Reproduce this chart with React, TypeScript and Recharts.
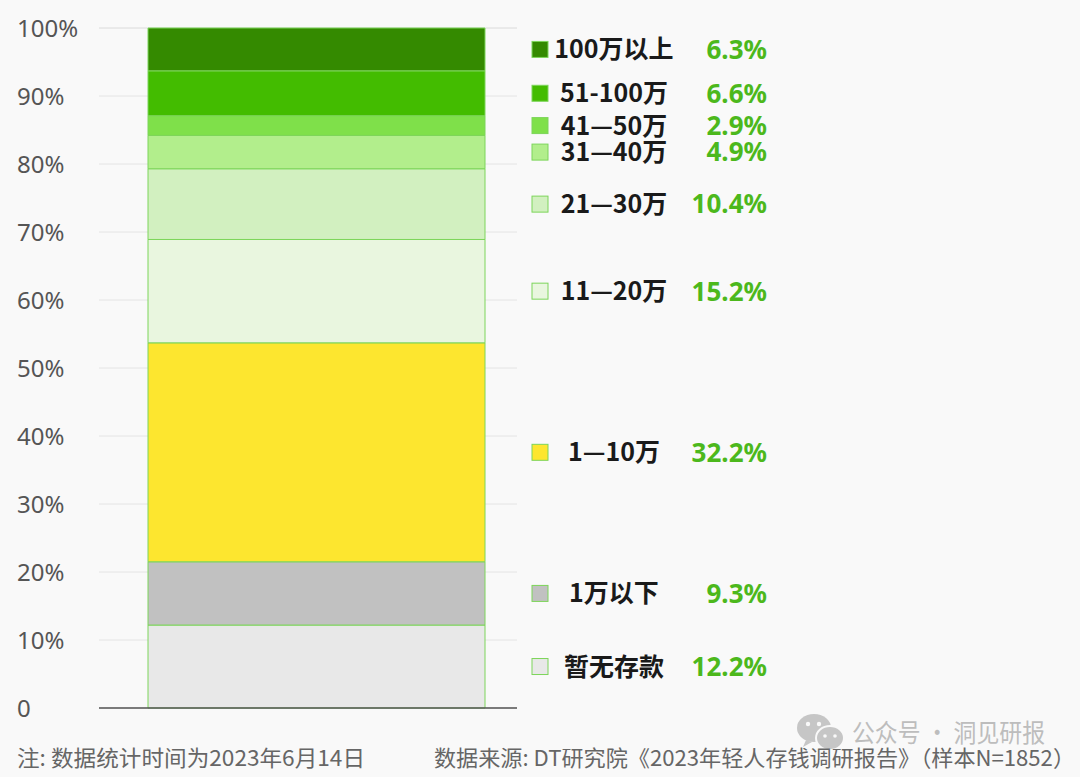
import React from 'react'
import { BarChart, Bar, XAxis, YAxis, CartesianGrid, LabelList, ReferenceLine } from 'recharts'

// 存款区间分布（单一堆叠柱）
const categories = ['存款']
const seriesNames = ['暂无存款', '1万以下', '1—10万', '11—20万', '21—30万', '31—40万', '41—50万', '51-100万', '100万以上']
const seriesValues = [12.2, 9.3, 32.2, 15.2, 10.4, 4.9, 2.9, 6.6, 6.3]
const yTicks = [0, 10, 20, 30, 40, 50, 60, 70, 80, 90, 100]

const seriesColors = ['#e8e8e8', '#c1c1c1', '#fde62f', '#e9f6df', '#d2f0c0', '#b2ee8c', '#7fe04a', '#43bc00', '#348a00']
const edge = '#7dd55a'
const valueGreen = '#4cb81c'

const data = categories.map((name) => {
  const row: any = { name }
  seriesValues.forEach((v, i) => {
    row['s' + i] = v
  })
  return row
})

function SideLabel(i: number) {
  return (props: any) => {
    const x = Number(props.x)
    const y = Number(props.y)
    const w = Number(props.width)
    const h = Number(props.height)
    const right = x + w
    const cy = y + h / 2
    return (
      <g>
        <rect x={right + 47} y={cy - 8} width={16} height={16} fill={seriesColors[i]} stroke={edge} strokeWidth={1} />
        <text
          x={right + 129}
          y={cy}
          dy="0.36em"
          textAnchor="middle"
          fontFamily="'Noto Sans CJK SC', 'Noto Sans', sans-serif"
          fontWeight={700}
          fontSize={25}
          fill="#1a1a1a"
        >
          {seriesNames[i]}
        </text>
        <text
          x={right + 282}
          y={cy}
          dy="0.36em"
          textAnchor="end"
          fontFamily="'Noto Sans', sans-serif"
          fontWeight={700}
          fontSize={26}
          fill={valueGreen}
        >
          {seriesValues[i].toFixed(1)}%
        </text>
      </g>
    )
  }
}

const YTick = (props: any) => {
  const { y, payload } = props
  return (
    <text
      x={17}
      y={y}
      dy="0.36em"
      textAnchor="start"
      fontFamily="'Noto Sans', sans-serif"
      fontSize={24}
      fill="#555"
    >
      {payload.value === 0 ? '0' : payload.value + '%'}
    </text>
  )
}

export default function App() {
  return (
    <div
      style={{
        position: 'absolute',
        left: 0,
        top: 0,
        width: 1080,
        height: 777,
        background: '#f9f9f9',
        overflow: 'hidden',
      }}
    >
      <BarChart
        width={1080}
        height={777}
        data={data}
        margin={{ top: 28, right: 563, bottom: 69, left: 0 }}
        barSize={337}
      >
        <CartesianGrid vertical={false} stroke="#e4e4e4" />
        <XAxis
          dataKey="name"
          tick={false}
          tickLine={false}
          axisLine={false}
          height={0}
          padding={{ left: 17, right: 0 }}
        />
        <YAxis
          width={99}
          domain={[0, 100]}
          ticks={yTicks}
          axisLine={false}
          tickLine={false}
          tick={<YTick />}
          interval={0}
        />
        {seriesNames.map((n, i) => (
          <Bar
            key={n}
            dataKey={'s' + i}
            stackId="a"
            fill={seriesColors[i]}
            stroke={edge}
            strokeWidth={1}
            isAnimationActive={false}
          >
            <LabelList dataKey={'s' + i} content={SideLabel(i)} />
          </Bar>
        ))}
        <ReferenceLine y={0} stroke="#555" strokeWidth={1.5} />
      </BarChart>

      <svg
        width={1080}
        height={80}
        style={{ position: 'absolute', left: 0, top: 697 }}
      >
        <g>
          <ellipse cx={814} cy={31} rx={17} ry={14} fill="#c6c6c6" />
          <path d="M806 43 L803 50 L812 45 Z" fill="#c6c6c6" />
          <ellipse cx={830} cy={41} rx={14} ry={12} fill="#c6c6c6" stroke="#f9f9f9" strokeWidth={2} />
          <circle cx={808} cy={27} r={2.2} fill="#f9f9f9" />
          <circle cx={819} cy={27} r={2.2} fill="#f9f9f9" />
          <circle cx={825} cy={39} r={1.8} fill="#f9f9f9" />
          <circle cx={835} cy={39} r={1.8} fill="#f9f9f9" />
        </g>
        <text
          x={852}
          y={36}
          dy="0.36em"
          fontFamily="'Noto Sans CJK SC', sans-serif"
          fontSize={25}
          fill="#bdbdbd"
          textLength={193}
          lengthAdjust="spacingAndGlyphs"
        >
          公众号 · 洞见研报
        </text>
        <text
          x={17}
          y={61}
          dy="0.36em"
          fontFamily="'Noto Sans CJK SC', sans-serif"
          fontSize={22}
          fill="#666"
          textLength={348}
          lengthAdjust="spacingAndGlyphs"
        >
          注: 数据统计时间为2023年6月14日
        </text>
        <text
          x={434}
          y={61}
          dy="0.36em"
          fontFamily="'Noto Sans CJK SC', sans-serif"
          fontSize={22}
          fill="#666"
          textLength={641}
          lengthAdjust="spacingAndGlyphs"
        >
          数据来源: DT研究院《2023年轻人存钱调研报告》（样本N=1852）
        </text>
      </svg>
    </div>
  )
}
